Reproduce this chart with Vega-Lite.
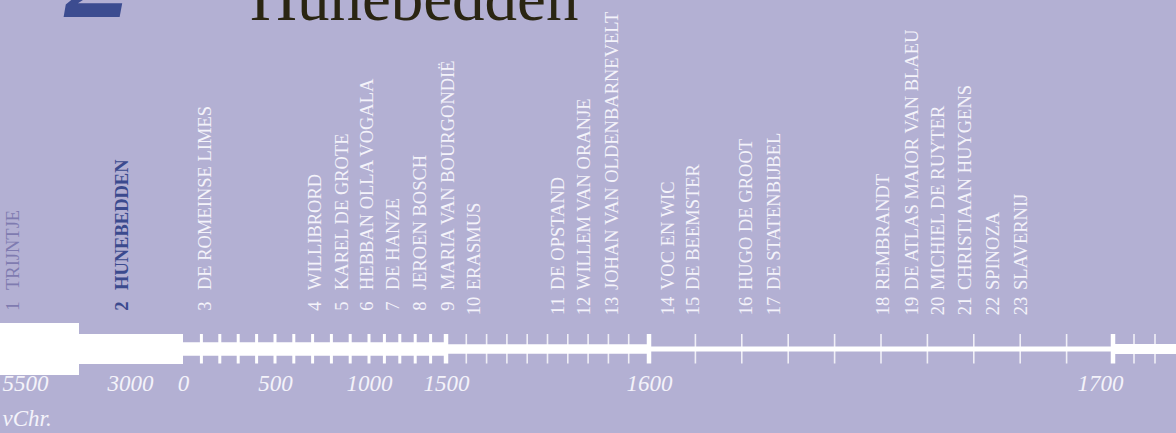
{
  "$schema": "https://vega.github.io/schema/vega-lite/v6.json",
  "width": 1176,
  "height": 433,
  "padding": 0,
  "autosize": {"type": "none"},
  "background": "#b3b0d3",
  "config": {"view": {"stroke": null}},
  "datasets": {
    "tijdvakken": [
      {"jaar": -5500, "tot": -3000, "tijdvak": "prehistorie"},
      {"jaar": -3000, "tot": 0, "tijdvak": "oudheid"},
      {"jaar": 0, "tot": 1500, "tijdvak": "0-1500"},
      {"jaar": 1500, "tot": 1600, "tijdvak": "1500-1600"},
      {"jaar": 1600, "tot": 1700, "tijdvak": "1600-1700"},
      {"jaar": 1700, "tot": 1730, "tijdvak": "na 1700"}
    ],
    "streepjes": [
      {"jaar": 100, "soort": "eeuw"}, {"jaar": 200, "soort": "eeuw"}, {"jaar": 300, "soort": "eeuw"},
      {"jaar": 400, "soort": "eeuw"}, {"jaar": 500, "soort": "eeuw"}, {"jaar": 600, "soort": "eeuw"},
      {"jaar": 700, "soort": "eeuw"}, {"jaar": 800, "soort": "eeuw"}, {"jaar": 900, "soort": "eeuw"},
      {"jaar": 1000, "soort": "eeuw"}, {"jaar": 1100, "soort": "eeuw"}, {"jaar": 1200, "soort": "eeuw"},
      {"jaar": 1300, "soort": "eeuw"}, {"jaar": 1400, "soort": "eeuw"},
      {"jaar": 1500, "soort": "grens"},
      {"jaar": 1510, "soort": "decennium"}, {"jaar": 1520, "soort": "decennium"}, {"jaar": 1530, "soort": "decennium"},
      {"jaar": 1540, "soort": "decennium"}, {"jaar": 1550, "soort": "decennium"}, {"jaar": 1560, "soort": "decennium"},
      {"jaar": 1570, "soort": "decennium"}, {"jaar": 1580, "soort": "decennium"}, {"jaar": 1590, "soort": "decennium"},
      {"jaar": 1600, "soort": "grens"},
      {"jaar": 1610, "soort": "decennium"}, {"jaar": 1620, "soort": "decennium"}, {"jaar": 1630, "soort": "decennium"},
      {"jaar": 1640, "soort": "decennium"}, {"jaar": 1650, "soort": "decennium"}, {"jaar": 1660, "soort": "decennium"},
      {"jaar": 1670, "soort": "decennium"}, {"jaar": 1680, "soort": "decennium"}, {"jaar": 1690, "soort": "decennium"},
      {"jaar": 1700, "soort": "grens"},
      {"jaar": 1710, "soort": "decennium"}, {"jaar": 1720, "soort": "decennium"}
    ],
    "vensters": [
      {"nr": 1, "naam": "TRIJNTJE", "jaar": -5090},
      {"nr": 2, "naam": "HUNEBEDDEN", "jaar": -1760},
      {"nr": 3, "naam": "DE ROMEINSE LIMES", "jaar": 120},
      {"nr": 4, "naam": "WILLIBRORD", "jaar": 713},
      {"nr": 5, "naam": "KAREL DE GROTE", "jaar": 856},
      {"nr": 6, "naam": "HEBBAN OLLA VOGALA", "jaar": 989},
      {"nr": 7, "naam": "DE HANZE", "jaar": 1156},
      {"nr": 8, "naam": "JEROEN BOSCH", "jaar": 1331},
      {"nr": 9, "naam": "MARIA VAN BOURGONDIË", "jaar": 1501},
      {"nr": 10, "naam": "ERASMUS", "jaar": 1514},
      {"nr": 11, "naam": "DE OPSTAND", "jaar": 1555},
      {"nr": 12, "naam": "WILLEM VAN ORANJE", "jaar": 1568},
      {"nr": 13, "naam": "JOHAN VAN OLDENBARNEVELT", "jaar": 1582},
      {"nr": 14, "naam": "VOC EN WIC", "jaar": 1604},
      {"nr": 15, "naam": "DE BEEMSTER", "jaar": 1609.5},
      {"nr": 16, "naam": "HUGO DE GROOT", "jaar": 1621},
      {"nr": 17, "naam": "DE STATENBIJBEL", "jaar": 1627},
      {"nr": 18, "naam": "REMBRANDT", "jaar": 1650.4},
      {"nr": 19, "naam": "DE ATLAS MAIOR VAN BLAEU", "jaar": 1656.7},
      {"nr": 20, "naam": "MICHIEL DE RUYTER", "jaar": 1662.3},
      {"nr": 21, "naam": "CHRISTIAAN HUYGENS", "jaar": 1668.1},
      {"nr": 22, "naam": "SPINOZA", "jaar": 1674.1},
      {"nr": 23, "naam": "SLAVERNIJ", "jaar": 1680.1}
    ],
    "kop": [{"nr": "2", "titel": "Hunebedden"}]
  },
  "resolve": {"scale": {"size": "independent"}},
  "layer": [
    {
      "data": {"name": "tijdvakken"},
      "mark": {"type": "rule", "color": "#ffffff"},
      "encoding": {
        "x": {
          "field": "jaar", "type": "quantitative",
          "scale": {"domain": [-5500, -3000, 0, 500, 1000, 1500, 1600, 1700, 1730], "range": [0, 79, 183, 275, 369, 446, 649, 1113, 1176], "nice": false, "zero": false},
          "axis": {
            "values": [-5500, -3000, 0, 500, 1000, 1500, 1600, 1700],
            "orient": "bottom", "offset": -60, "domain": false, "ticks": false, "grid": false,
            "labelPadding": 17, "labelBaseline": "alphabetic",
            "labelFont": "Liberation Serif", "labelFontStyle": "italic", "labelFontSize": 23,
            "labelColor": "#f4f3fa", "labelLineHeight": 35,
            "labelOverlap": false, "labelFlush": false, "labelBound": false,
            "labelExpr": "datum.value == -5500 ? ['5500', 'vChr.'] : '' + abs(datum.value)",
            "labelAlign": {"condition": {"test": "datum.value == -5500", "value": "left"}, "value": "center"},
            "labelOffset": {"expr": "datum.value == -3000 ? 51 : datum.value == 1700 ? -13 : datum.value == -5500 ? 2 : 0"},
            "title": null
          }
        },
        "x2": {"field": "tot"},
        "y": {"datum": 0, "type": "quantitative", "scale": {"domain": [-84, 349], "nice": false, "zero": false}, "axis": null},
        "size": {
          "field": "tijdvak", "type": "nominal",
          "scale": {"type": "ordinal", "domain": ["prehistorie", "oudheid", "0-1500", "1500-1600", "1600-1700", "na 1700"], "range": [52, 30, 13.5, 9.5, 5, 10]},
          "legend": null
        }
      }
    },
    {
      "data": {"name": "streepjes"},
      "mark": {"type": "rule", "color": "#ffffff"},
      "encoding": {
        "x": {"field": "jaar", "type": "quantitative", "scale": {"domain": [-5500, -3000, 0, 500, 1000, 1500, 1600, 1700, 1730], "range": [0, 79, 183, 275, 369, 446, 649, 1113, 1176], "nice": false, "zero": false}},
        "y": {"datum": 15, "type": "quantitative", "scale": {"domain": [-84, 349], "nice": false, "zero": false}, "axis": null},
        "y2": {"datum": -14.5},
        "size": {
          "field": "soort", "type": "nominal",
          "scale": {"type": "ordinal", "domain": ["eeuw", "decennium", "grens"], "range": [3, 1.6, 4.5]},
          "legend": null
        },
        "opacity": {"condition": {"test": "datum.soort == 'decennium'", "value": 0.8}, "value": 1}
      }
    },
    {
      "data": {"name": "vensters"},
      "mark": {"type": "text", "angle": 270, "align": "left", "baseline": "middle", "font": "Liberation Serif", "fontSize": 18.5, "fontWeight": {"expr": "datum.nr == 2 ? 'bold' : 'normal'"}},
      "encoding": {
        "x": {"field": "jaar", "type": "quantitative", "scale": {"domain": [-5500, -3000, 0, 500, 1000, 1500, 1600, 1700, 1730], "range": [0, 79, 183, 275, 369, 446, 649, 1113, 1176], "nice": false, "zero": false}},
        "y": {"datum": 59, "type": "quantitative", "scale": {"domain": [-84, 349], "nice": false, "zero": false}, "axis": null},
        "text": {"field": "naam"},
        "color": {"condition": [{"test": "datum.nr == 1", "value": "#7f7bb0"}, {"test": "datum.nr == 2", "value": "#3b4a8e"}], "value": "#f4f3fa"}
      }
    },
    {
      "data": {"name": "vensters"},
      "mark": {"type": "text", "angle": 270, "align": "center", "baseline": "middle", "font": "Liberation Serif", "fontSize": 18.5, "fontWeight": {"expr": "datum.nr == 2 ? 'bold' : 'normal'"}},
      "encoding": {
        "x": {"field": "jaar", "type": "quantitative", "scale": {"domain": [-5500, -3000, 0, 500, 1000, 1500, 1600, 1700, 1730], "range": [0, 79, 183, 275, 369, 446, 649, 1113, 1176], "nice": false, "zero": false}},
        "y": {"datum": 43, "type": "quantitative", "scale": {"domain": [-84, 349], "nice": false, "zero": false}, "axis": null},
        "text": {"field": "nr"},
        "color": {"condition": [{"test": "datum.nr == 1", "value": "#7f7bb0"}, {"test": "datum.nr == 2", "value": "#3b4a8e"}], "value": "#f4f3fa"}
      }
    },
    {
      "data": {"name": "kop"},
      "mark": {"type": "text", "align": "left", "baseline": "alphabetic", "font": "Liberation Serif", "fontSize": 65, "color": "#2a2512"},
      "encoding": {
        "x": {"datum": 364, "type": "quantitative", "scale": {"domain": [-5500, -3000, 0, 500, 1000, 1500, 1600, 1700, 1730], "range": [0, 79, 183, 275, 369, 446, 649, 1113, 1176], "nice": false, "zero": false}},
        "y": {"datum": 329, "type": "quantitative", "scale": {"domain": [-84, 349], "nice": false, "zero": false}, "axis": null},
        "text": {"field": "titel"}
      }
    },
    {
      "data": {"name": "kop"},
      "mark": {"type": "text", "align": "center", "baseline": "alphabetic", "font": "Liberation Serif", "fontSize": 135, "fontWeight": "bold", "fontStyle": "italic", "color": "#3c4c90"},
      "encoding": {
        "x": {"datum": -2420, "type": "quantitative", "scale": {"domain": [-5500, -3000, 0, 500, 1000, 1500, 1600, 1700, 1730], "range": [0, 79, 183, 275, 369, 446, 649, 1113, 1176], "nice": false, "zero": false}},
        "y": {"datum": 332, "type": "quantitative", "scale": {"domain": [-84, 349], "nice": false, "zero": false}, "axis": null},
        "text": {"field": "nr"}
      }
    }
  ]
}
